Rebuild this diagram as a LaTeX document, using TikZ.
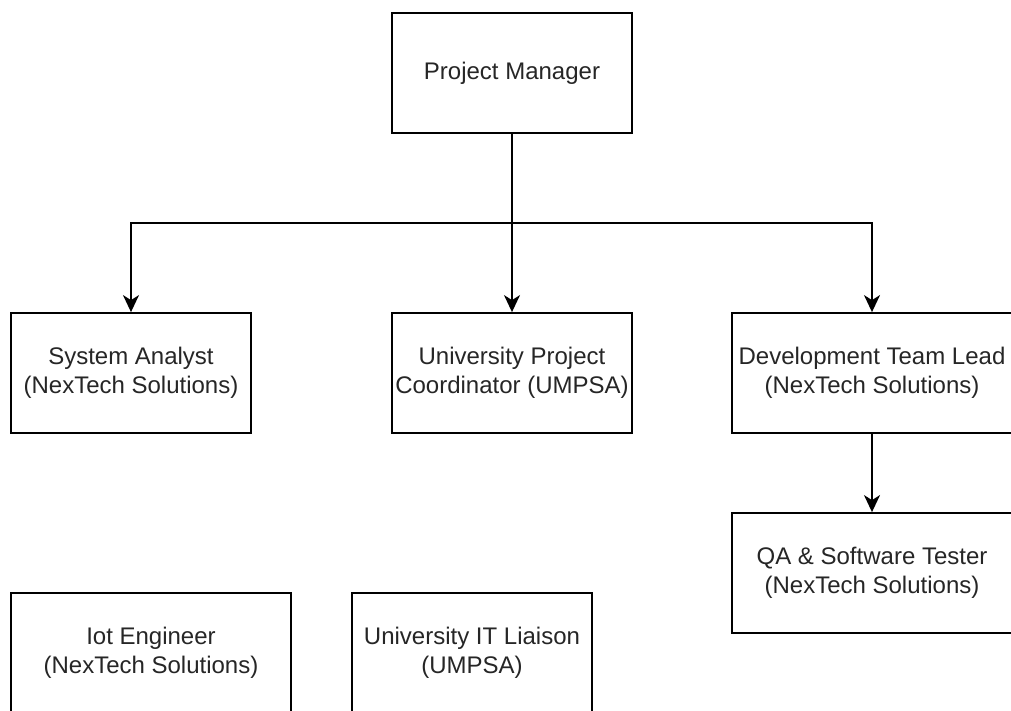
\documentclass[tikz,border=0pt]{standalone}
\usepackage{fontspec}
\setmainfont{Liberation Sans}
\usetikzlibrary{arrows.meta}
\tikzset{
  rolebox/.style={draw=black, line width=1.8pt, fill=white, minimum height=120pt, inner sep=0pt, align=center, font=\fontsize{24}{28.8}\selectfont, text=black!85},
  narrowbox/.style={rolebox, minimum width=240pt},
  widebox/.style={rolebox, minimum width=280pt},
  link/.style={line width=1.8pt, -{Stealth[length=17pt, width=16pt, inset=5pt]}}
}
\begin{document}
\begin{tikzpicture}[x=1pt, y=-1pt]
\useasboundingbox (0,0) rectangle (1011,711);
\clip (0,0) rectangle (1011,711);
\node[narrowbox] (pm)  at (512,73)  {Project Manager};
\node[narrowbox] (sa)  at (131,373) {System Analyst\\(NexTech Solutions)};
\node[narrowbox] (upc) at (512,373) {University Project\\Coordinator (UMPSA)};
\node[widebox]   (dtl) at (872,373) {Development Team Lead\\(NexTech Solutions)};
\node[widebox]   (qa)  at (872,573) {QA \& Software Tester\\(NexTech Solutions)};
\node[widebox]   (iot) at (151,653) {Iot Engineer\\(NexTech Solutions)};
\node[narrowbox] (itl) at (472,653) {University IT Liaison\\(UMPSA)};
\coordinate (split) at (512,223);
\draw[link] (pm.south) -- (split) -| (sa.north);
\draw[link] (pm.south) -- (upc.north);
\draw[link] (pm.south) -- (split) -| (dtl.north);
\draw[link] (dtl.south) -- (qa.north);
\end{tikzpicture}
\end{document}
